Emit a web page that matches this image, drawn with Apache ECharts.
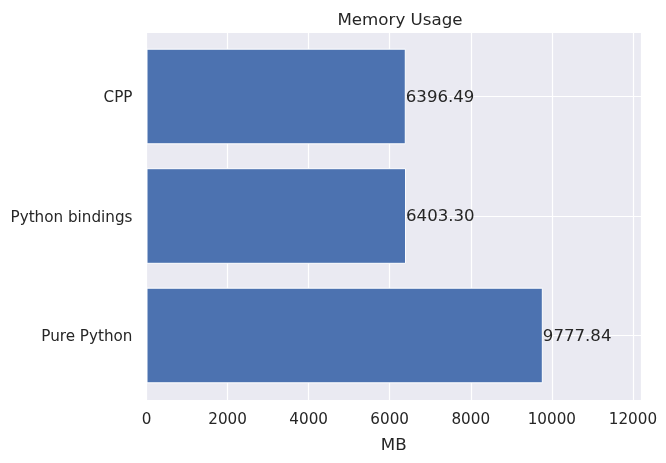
<!DOCTYPE html>
<html>
<head>
<meta charset="utf-8">
<script src="https://cdn.jsdelivr.net/npm/echarts@6/dist/echarts.min.js"></script>
<style>
  html, body { margin: 0; padding: 0; background: #ffffff; }
  #chart { width: 666px; height: 463px; }
</style>
</head>
<body>
<div id="chart"></div>
<script>
// bottom to top, like the matplotlib barh
const categories = ['Pure Python', 'Python bindings', 'CPP']
const memoryMb = [9777.84, 6403.30, 6396.49]
const xTicks = [0, 2000, 4000, 6000, 8000, 10000, 12000]

const font = 'DejaVu Sans'
const textColor = '#262626'
const xMax = 12200

let chart = echarts.init(document.getElementById('chart'))
let option = {
  backgroundColor: '#ffffff',
  animation: false,
  title: {
    text: 'Memory Usage',
    left: 395,
    textAlign: 'center',
    top: 7,
    textStyle: {
      fontFamily: font,
      fontSize: 16.7,
      fontWeight: 'normal',
      color: textColor
    }
  },
  // grid 0: the full axes background, x ticks and vertical grid lines
  // grid 1: the bars, inset a little like matplotlib's margins
  grid: [{
    left: 146.5,
    right: 25,
    top: 33,
    bottom: 63,
    show: true,
    backgroundColor: '#EAEAF2',
    borderWidth: 0
  }, {
    left: 146.5,
    right: 25,
    top: 36.75,
    bottom: 67.75
  }],
  xAxis: [{
    gridIndex: 0,
    type: 'value',
    min: 0,
    max: xMax,
    interval: 2000,
    name: 'MB',
    nameLocation: 'middle',
    nameGap: 37,
    nameTextStyle: {
      fontFamily: font,
      fontSize: 16.7,
      color: textColor
    },
    axisLine: { show: false },
    axisTick: { show: false },
    axisLabel: {
      margin: 13,
      fontFamily: font,
      fontSize: 15.2,
      color: textColor,
      showMaxLabel: false,
      formatter: v => (xTicks.indexOf(v) >= 0 ? String(v) : '')
    },
    splitLine: {
      show: true,
      lineStyle: { color: '#ffffff', width: 1.2 }
    }
  }, {
    gridIndex: 1,
    type: 'value',
    min: 0,
    max: xMax,
    show: false
  }],
  yAxis: [{
    gridIndex: 0,
    type: 'value',
    show: false
  }, {
    gridIndex: 1,
    type: 'category',
    data: categories,
    axisLine: { show: false },
    axisTick: { show: false, alignWithLabel: true },
    axisLabel: {
      margin: 14,
      formatter: v => '{c|' + v + '}',
      rich: {
        c: {
          padding: [4, 0, 0, 0],
          fontFamily: font,
          fontSize: 15.2,
          color: textColor
        }
      }
    },
    splitLine: {
      show: true,
      alignWithLabel: true,
      lineStyle: { color: '#ffffff', width: 1.2 }
    }
  }],
  series: [{
    type: 'bar',
    xAxisIndex: 1,
    yAxisIndex: 1,
    data: memoryMb,
    barCategoryGap: '20%',
    itemStyle: {
      color: '#4C72B0',
      borderColor: '#ffffff',
      borderWidth: 1
    },
    label: {
      show: true,
      position: 'right',
      distance: 0,
      offset: [0, 1],
      fontFamily: font,
      fontSize: 16.6,
      color: textColor,
      formatter: p => p.value.toFixed(2)
    }
  }]
}
chart.setOption(option)
</script>
</body>
</html>
